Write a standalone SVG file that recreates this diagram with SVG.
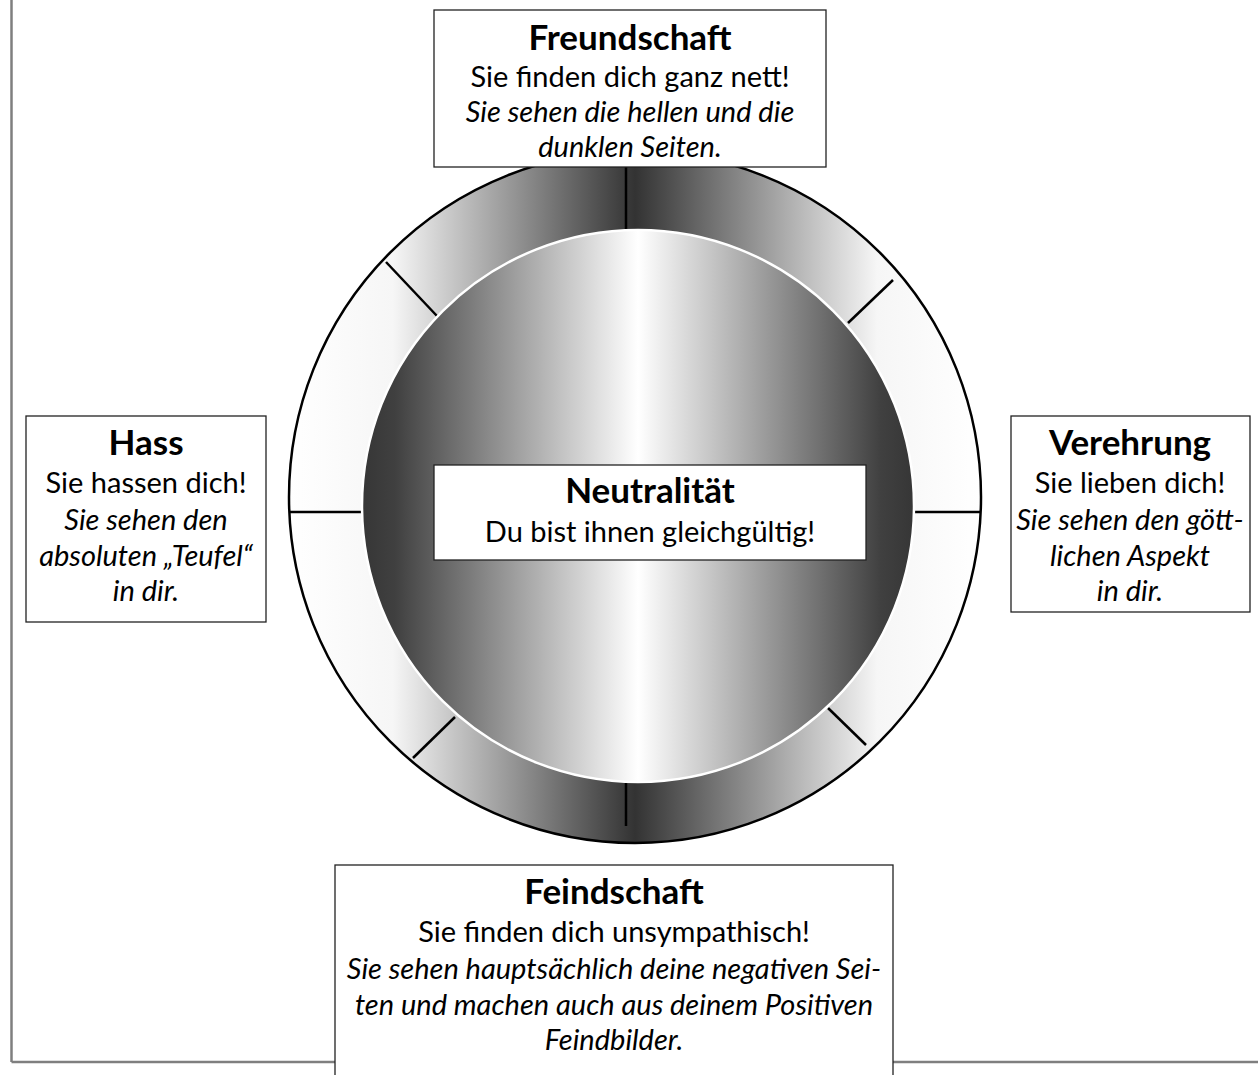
<svg xmlns="http://www.w3.org/2000/svg" width="1258" height="1075" viewBox="0 0 1258 1075">
  <defs>
    <linearGradient id="ringGrad" x1="0" y1="0" x2="1" y2="0">
      <stop offset="0" stop-color="#ffffff"/>
      <stop offset="0.15" stop-color="#f6f6f6"/>
      <stop offset="0.5" stop-color="#333333"/>
      <stop offset="0.85" stop-color="#f6f6f6"/>
      <stop offset="1" stop-color="#ffffff"/>
    </linearGradient>
    <linearGradient id="coreGrad" x1="0" y1="0" x2="1" y2="0">
      <stop offset="0" stop-color="#363636"/>
      <stop offset="0.06" stop-color="#404040"/>
      <stop offset="0.5" stop-color="#ffffff"/>
      <stop offset="0.94" stop-color="#404040"/>
      <stop offset="1" stop-color="#363636"/>
    </linearGradient>
  </defs>
  <style>
    .box { fill: #ffffff; stroke: #222222; stroke-width: 1.3; }
    .frame { stroke: #7f7f7f; stroke-width: 2.5; fill: none; }
    .spoke { stroke: #000000; stroke-width: 2.5; }
    .ttl { font-family: Lato, "Open Sans", "Liberation Sans", sans-serif; font-weight: bold; font-size: 35px; fill: #000; text-anchor: middle; }
    .txt { font-family: Lato, "Open Sans", "Liberation Sans", sans-serif; font-size: 29px; fill: #000; text-anchor: middle; }
    .it { font-style: italic; }
  </style>
  <rect width="1258" height="1075" fill="#ffffff"/>

  <g id="frame">
    <line class="frame" x1="11.5" y1="0" x2="11.5" y2="1062"/>
    <line class="frame" x1="11.5" y1="1062" x2="1258" y2="1062"/>
  </g>

  <g id="ring">
    <circle cx="635" cy="497" r="346" fill="url(#ringGrad)" stroke="#000" stroke-width="2.5"/>
  </g>

  <g id="connectors">
    <line class="spoke" x1="626" y1="150" x2="626" y2="229"/>
    <line class="spoke" x1="626" y1="783" x2="626" y2="826"/>
    <line class="spoke" x1="289" y1="512" x2="362" y2="512"/>
    <line class="spoke" x1="914" y1="512" x2="981" y2="512"/>
    <line class="spoke" x1="386" y1="262" x2="437" y2="316"/>
    <line class="spoke" x1="893" y1="280" x2="848" y2="323"/>
    <line class="spoke" x1="455" y1="717" x2="413" y2="758"/>
    <line class="spoke" x1="828" y1="708" x2="866" y2="745"/>
  </g>

  <g id="core">
    <circle cx="638" cy="506" r="276" fill="url(#coreGrad)" stroke="#ffffff" stroke-width="2.5"/>
  </g>

  <g id="node-neutralitaet">
    <rect class="box" x="434" y="465" width="432" height="95"/>
    <text class="ttl" x="650" y="503">Neutralität</text>
    <text class="txt" x="650" y="542">Du bist ihnen gleichgültig!</text>
  </g>

  <g id="node-freundschaft">
    <rect class="box" x="434" y="10" width="392" height="157"/>
    <text class="ttl" x="630" y="50">Freundschaft</text>
    <text class="txt" x="630" y="87">Sie finden dich ganz nett!</text>
    <text class="txt it" x="630" y="122">Sie sehen die hellen und die</text>
    <text class="txt it" x="630" y="157">dunklen Seiten.</text>
  </g>

  <g id="node-hass">
    <rect class="box" x="26" y="416" width="240" height="206"/>
    <text class="ttl" x="146" y="455">Hass</text>
    <text class="txt" x="146" y="493">Sie hassen dich!</text>
    <text class="txt it" x="146" y="530">Sie sehen den</text>
    <text class="txt it" x="146" y="566">absoluten „Teufel“</text>
    <text class="txt it" x="146" y="601">in dir.</text>
  </g>

  <g id="node-verehrung">
    <rect class="box" x="1011" y="416" width="239" height="196"/>
    <text class="ttl" x="1130" y="455">Verehrung</text>
    <text class="txt" x="1130" y="493">Sie lieben dich!</text>
    <text class="txt it" x="1130" y="530">Sie sehen den gött-</text>
    <text class="txt it" x="1130" y="566">lichen Aspekt</text>
    <text class="txt it" x="1130" y="601">in dir.</text>
  </g>

  <g id="node-feindschaft">
    <rect class="box" x="335" y="865" width="558" height="215"/>
    <text class="ttl" x="614" y="904">Feindschaft</text>
    <text class="txt" x="614" y="942">Sie finden dich unsympathisch!</text>
    <text class="txt it" x="614" y="979">Sie sehen hauptsächlich deine negativen Sei-</text>
    <text class="txt it" x="614" y="1015">ten und machen auch aus deinem Positiven</text>
    <text class="txt it" x="614" y="1050">Feindbilder.</text>
  </g>
</svg>
